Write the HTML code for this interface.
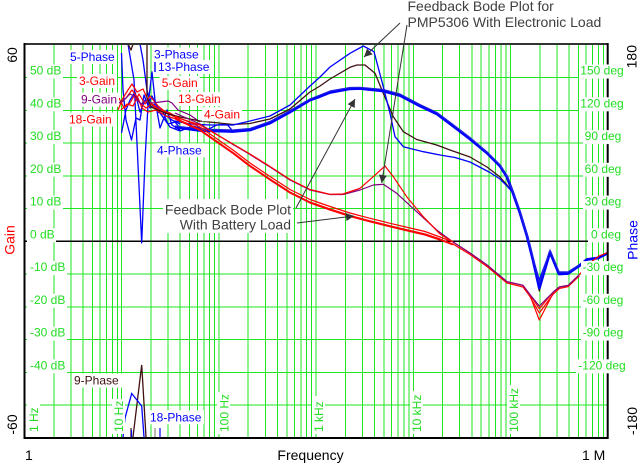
<!DOCTYPE html>
<html><head><meta charset="utf-8"><style>
html,body{margin:0;padding:0;background:#fff;}
svg{display:block;}
text{font-family:"Liberation Sans",Arial,sans-serif;}
</style></head><body>
<svg width="640" height="464" viewBox="0 0 640 464" xmlns="http://www.w3.org/2000/svg">
<defs>
<marker id="ah" viewBox="0 0 10 10" refX="10" refY="5" markerWidth="11" markerHeight="8" markerUnits="userSpaceOnUse" orient="auto"><path d="M0,0 L10,5 L0,10 z" fill="#333"/></marker>
</defs>
<rect width="640" height="464" fill="#fff"/>
<!-- vertical grid -->
<g stroke="#1ee61e" stroke-width="1" fill="none" shape-rendering="crispEdges">
<path d="M53.76 44V438M70.88 44V438M83.02 44V438M92.44 44V438M100.14 44V438M106.64 44V438M112.28 44V438M117.25 44V438
M121.7 44V438M150.96 44V438M168.08 44V438M180.22 44V438M189.64 44V438M197.34 44V438M203.84 44V438M209.48 44V438M214.45 44V438
M218.9 44V438M248.16 44V438M265.28 44V438M277.42 44V438M286.84 44V438M294.54 44V438M301.04 44V438M306.68 44V438M311.65 44V438
M316.1 44V438M345.36 44V438M362.48 44V438M374.62 44V438M384.04 44V438M391.74 44V438M398.24 44V438M403.88 44V438M408.85 44V438
M413.3 44V438M442.56 44V438M459.68 44V438M471.82 44V438M481.24 44V438M488.94 44V438M495.44 44V438M501.08 44V438M506.05 44V438
M510.5 44V438M539.76 44V438M556.88 44V438M569.02 44V438M578.44 44V438M586.14 44V438M592.64 44V438M598.28 44V438M603.25 44V438"/>
<!-- horizontal grid -->
<path d="M24.5 77.5H607.7M24.5 110.3H607.7M24.5 143.1H607.7M24.5 175.8H607.7M24.5 208.6H607.7M24.5 274.1H607.7M24.5 306.8H607.7M24.5 339.6H607.7M24.5 372.3H607.7M24.5 405.1H607.7"/>
</g>
<path d="M24.5 241.3H607.7" stroke="#000" stroke-width="1.5"/>

<!-- low freq noise: phase blue -->
<g fill="none" stroke="#0000ff" stroke-width="1.3" stroke-linejoin="round">
<polyline points="121.5,53 123,90 126,120 131.5,140 136,118 140,120 144,95 148,105 152,72 155,100 160,128 167,110 172,125 180,130"/>
<polyline points="121.5,133 126,110 130,100 135,92 140,112 145,100 150,108 155,104 162,110 168,124 175,122 180,128"/>
<polyline points="128,44 134,80 141.7,243 145,160 148,105 152,96 160,113 170,127 180,131"/>
<polyline points="140,44 143,60 147,90 150,102 158,112 165,115 172,120 180,124"/>
<polyline points="180,131 193,126 206.7,130 216.7,125 226.7,124 233.3,131.7 245,129"/>
<path d="M155 62V72"/>
</g>
<!-- low freq gain red -->
<g fill="none" stroke="#ff0000" stroke-width="1.2" stroke-linejoin="round">
<polyline points="118,110 123,98 128,90 132,84 137,92 143,89 148,100 155,108 165,112 175,117"/>
<polyline points="119,98 124,108 130,103 134,96 140,103 146,108 152,104 160,110 170,113 180,119"/>
<polyline points="120,104 126,98 132,90 138,98 142,108 148,112 156,110 166,116 180,120"/>
<polyline points="121,110 127,104 133,106 139,94 145,104 150,96 158,106 168,114 178,118"/>
</g>
<polyline fill="none" stroke="#800080" stroke-width="1.2" points="117,104 124,100 130,94 136,97 141,104 147,100 152,103 160,102 168,101 172,103 178,110 190,115 200,122"/>

<!-- brown phase -->
<polyline fill="none" stroke="#401010" stroke-width="1.3" stroke-linejoin="round" points="128,44 131,50 133,44"/>
<polyline fill="none" stroke="#401010" stroke-width="1.3" stroke-linejoin="round" points="147,44 147,98 151,107 165,113 180,117 200,121 233,124.5 250,123.5 270,119 290,109 310,92 320,86 330,79 350,67.3 357,65 365,65 375,73.3 383.3,93.3 393.3,116.7 403.3,131.7 416.7,139.5 436.7,145 450,150 470,157 487,167 500,177 507,185 513,193 520,213 527,236 533,260 539.3,291 550,252 559,274 568,273.5 579,266"/>
<!-- thin blue electronic -->
<polyline fill="none" stroke="#0000ff" stroke-width="1.3" stroke-linejoin="round" points="175,121 190,124 210,125 233,125 250,121 270,116 290,105 310,86 320,77 330,67 350,53.3 363.3,46 374,51.7 383.3,86.7 390,113.3 395,136.7 403.3,146.7 423.3,151.7 440,155 455,157.5 470,162 490,172.5 500,179 507,186 513,193 520,213 527,236 533,258 539.3,280 550,251 559,272 568,272 579,265"/>
<!-- thick blue battery -->
<g fill="none" stroke-linejoin="round">
<polyline stroke="#0000ff" stroke-width="2.8" points="175,127 200,130.5 233,131.5 250,130 270,123 290,112 310,100 320,96.5 330,92.5 350,88.8 360,88.5 383,91 400,95.5 420,106 437,114 453,126 470,139 487,153 500,166 507,177 513,193 520,213 527,236 533,260 539.3,288 550,252 559,274 568,273.5 579,266 587,259.5 598,258 608,253"/>
<polyline stroke="#2020e0" stroke-width="1.2" points="175,126 200,129 233,130 250,128.5 270,121.5 290,110.5 310,99 330,91 350,87.5 360,87.3 383,89.5 400,94 420,104.5 437,112.5 453,124.5 470,137.5 487,152 500,165 507,176 513,192 520,212 527,235 533,258 539.3,283 550,250 559,272 568,272 579,265"/>
</g>
<!-- red gains -->
<g fill="none" stroke-linejoin="round" stroke-width="1.2">
<polyline stroke="#ff0000" points="175,116 200,127 233,150 250,163 270,176.5 290,189.5 310,199.5 330,206.5 350,213 370,218.3 390,223.3 410,228 425,231.5 440,237 453,242 470,253 487,265 507,281.7 523,285.3 529.3,293.7 539.3,308.7 553.3,292 559.3,287 568.3,285.3 579.3,274.7 590,263 599,256 608,252.5"/>
<polyline stroke="#ff0000" points="175,118 200,129.5 233,152.5 250,165.5 270,179 290,192 310,202 330,209 350,215.5 370,220.8 390,225.8 410,230.5 425,234 440,239 453,244 470,254.5 487,266.5 507,283 523,287 529.3,295.5 539.3,313 553.3,294 559.3,288.5 568.3,286.5 579.3,276"/>
<polyline stroke="#ff0000" points="175,119 200,130.5 233,153.5 250,166.5 270,180 290,193 310,203 330,210 350,216.5 370,221.8 390,226.8 410,231.5 425,235 440,240 453,245"/>
<polyline stroke="#ff0000" points="529.3,293.7 539.3,320 553.3,293"/>
<polyline stroke="#800080" points="175,113 200,124 233,144.5 250,154.5 270,167 290,180 310,190 330,194.5 343,194.5 360,190 373.3,185 383.3,184.3 396.7,193.3 416.7,211.7 436.7,230 453,242 470,253 487,265 507,281.7 523,285.3 529.3,293.7 539.3,306 553.3,292 559.3,287 568.3,285.3 579.3,274.7"/>
<polyline stroke="#ff0000" points="175,117 200,125 233,144 250,154 270,166.5 290,179.5 310,189.5 330,194.3 343,194 360,188.3 373.3,176.7 385,166 393.3,176.7 406.7,196.7 423.3,216.7 440,234 453,242"/>
</g>
<!-- bottom spikes -->
<polyline fill="none" stroke="#401010" stroke-width="1.3" points="133,437 141.7,365 146,437"/>
<path d="M131 428V437" stroke="#401010" stroke-width="1.2"/>
<polyline fill="none" stroke="#0000ff" stroke-width="1.3" points="123,437 125,418 131.7,393.5 141.7,406 144,437"/>
<path d="M160 428V437M131.5 430V437" stroke="#0000ff" stroke-width="1.2"/>
<path d="M155 428V437" stroke="#777" stroke-width="1"/>

<!-- arrows -->
<g stroke="#333" stroke-width="1" fill="none" marker-end="url(#ah)">
<line x1="400" y1="23" x2="364" y2="57"/>
<line x1="407" y1="25" x2="381.7" y2="183"/>
<line x1="296" y1="208" x2="355" y2="99"/>
<line x1="297" y1="223" x2="354" y2="216"/>
</g>

<!-- frame -->
<path d="M24 44H608" stroke="#333" stroke-width="2"/>
<path d="M24.5 43V439" stroke="#000" stroke-width="2"/>
<path d="M23.5 438H608.5" stroke="#000" stroke-width="2"/>
<path d="M607.7 43V439" stroke="#000" stroke-width="2"/>

<!-- left labels -->
<g fill="#fff">
<rect x="27" y="64.5" width="36" height="14"/>
<rect x="27" y="97.3" width="36" height="14"/>
<rect x="27" y="130.1" width="36" height="14"/>
<rect x="27" y="162.8" width="36" height="14"/>
<rect x="27" y="195.6" width="36" height="14"/>
<rect x="27" y="228.3" width="29" height="14"/>
<rect x="27" y="261.1" width="40" height="14"/>
<rect x="27" y="293.8" width="40" height="14"/>
<rect x="27" y="326.6" width="40" height="14"/>
<rect x="27" y="359.3" width="40" height="14"/>
</g>
<g fill="#22dd22" font-size="12">
<text x="30" y="74.5">50 dB</text>
<text x="30" y="107.3">40 dB</text>
<text x="30" y="140.1">30 dB</text>
<text x="30" y="172.8">20 dB</text>
<text x="30" y="205.6">10 dB</text>
<text x="30" y="238.3">0 dB</text>
<text x="30" y="271.1">-10 dB</text>
<text x="30" y="303.8">-20 dB</text>
<text x="30" y="336.6">-30 dB</text>
<text x="30" y="369.3">-40 dB</text>
</g>
<!-- right labels -->
<g fill="#fff">
<rect x="579" y="64.5" width="47" height="14"/>
<rect x="579" y="97.3" width="47" height="14"/>
<rect x="583" y="130.1" width="40" height="14"/>
<rect x="583" y="162.8" width="40" height="14"/>
<rect x="583" y="195.6" width="40" height="14"/>
<rect x="588" y="228.3" width="36" height="14"/>
<rect x="581" y="261.1" width="45" height="14"/>
<rect x="581" y="293.8" width="45" height="14"/>
<rect x="581" y="326.6" width="45" height="14"/>
<rect x="576" y="359.3" width="52" height="14"/>
</g>
<g fill="#22dd22" font-size="12" text-anchor="middle">
<text x="602" y="74.5">150 deg</text>
<text x="602" y="107.3">120 deg</text>
<text x="603" y="140.1">90 deg</text>
<text x="603" y="172.8">60 deg</text>
<text x="603" y="205.6">30 deg</text>
<text x="606" y="238.3">0 deg</text>
<text x="603" y="271.1">-30 deg</text>
<text x="603" y="303.8">-60 deg</text>
<text x="603" y="336.6">-90 deg</text>
<text x="602" y="369.3">-120 deg</text>
</g>
<!-- frequency labels -->
<g fill="#fff">
<rect x="27" y="403" width="13" height="31"/>
<rect x="112" y="399" width="13" height="35"/>
<rect x="217" y="392" width="13" height="42"/>
<rect x="312" y="396" width="13" height="38"/>
<rect x="410" y="391" width="13" height="43"/>
<rect x="507" y="385" width="13" height="49"/>
</g>
<g fill="#22dd22" font-size="12">
<text transform="translate(38,432) rotate(-90)">1 Hz</text>
<text transform="translate(123,432) rotate(-90)">10 Hz</text>
<text transform="translate(228.3,432) rotate(-90)">100 Hz</text>
<text transform="translate(323,432) rotate(-90)">1 kHz</text>
<text transform="translate(421,432) rotate(-90)">10 kHz</text>
<text transform="translate(518,432) rotate(-90)">100 kHz</text>
</g>

<!-- series labels -->
<g fill="#fff">
<rect x="68" y="50" width="49" height="14"/>
<rect x="152" y="47.5" width="50" height="14"/>
<rect x="156" y="60" width="56" height="14"/>
<rect x="77" y="74" width="40" height="14"/>
<rect x="159.7" y="76" width="40" height="14"/>
<rect x="79" y="92.6" width="40" height="14"/>
<rect x="176" y="92" width="47" height="14"/>
<rect x="67" y="112.6" width="46" height="14"/>
<rect x="202" y="107.3" width="40" height="14"/>
<rect x="155" y="143.3" width="50" height="14"/>
<rect x="72" y="373.6" width="50" height="14"/>
<rect x="148" y="410.3" width="56" height="14"/>
<rect x="163" y="199" width="130" height="34"/>
</g>
<g font-size="12">
<text x="70" y="61" fill="#0000ff">5-Phase</text>
<text x="154" y="58.5" fill="#0000ff">3-Phase</text>
<text x="158" y="71" fill="#0000ff">13-Phase</text>
<text x="79" y="85" fill="#ff0000">3-Gain</text>
<text x="161.7" y="87" fill="#ff0000">5-Gain</text>
<text x="81" y="103.6" fill="#800080">9-Gain</text>
<text x="178" y="103" fill="#ff0000">13-Gain</text>
<text x="69" y="123.6" fill="#ff0000">18-Gain</text>
<text x="204" y="118.3" fill="#ff0000">4-Gain</text>
<text x="157" y="154.3" fill="#0000ff">4-Phase</text>
<text x="74" y="384.6" fill="#401010">9-Phase</text>
<text x="150" y="421.3" fill="#0000ff">18-Phase</text>
</g>
<path d="M155 62V72" stroke="#0000ff" stroke-width="1.2"/>

<!-- annotations -->
<g fill="#404040" font-size="14">
<text x="291" y="214.3" text-anchor="end">Feedback Bode Plot</text>
<text x="291" y="229.3" text-anchor="end">With Battery Load</text>
<text x="407.5" y="11">Feedback Bode Plot for</text>
<text x="407.5" y="27">PMP5306 With Electronic Load</text>
</g>

<!-- axis titles -->
<g font-size="14" text-anchor="middle">
<text transform="translate(17,55) rotate(-90)" fill="#000">60</text>
<text transform="translate(17,424.5) rotate(-90)" fill="#000">-60</text>
<text transform="translate(14.5,240) rotate(-90)" fill="#ff0000">Gain</text>
<text transform="translate(636.7,56.7) rotate(-90)" fill="#000">180</text>
<text transform="translate(637.5,240) rotate(-90)" fill="#0000ff">Phase</text>
<text transform="translate(637,421) rotate(-90)" fill="#000">-180</text>
</g>
<g font-size="14" fill="#000">
<text x="25" y="460">1</text>
<text x="310.5" y="460" text-anchor="middle">Frequency</text>
<text x="582" y="460">1 M</text>
</g>
</svg>
</body></html>
